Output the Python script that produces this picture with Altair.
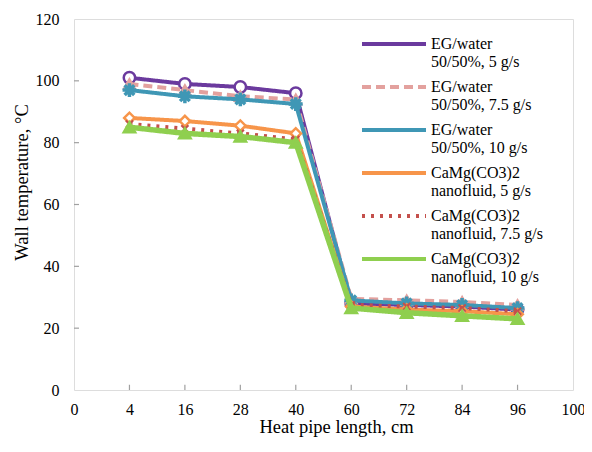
import altair as alt
import pandas as pd

x_labels = ["0", "4", "16", "28", "40", "60", "72", "84", "96", "100"]
lengths = [4, 16, 28, 40, 60, 72, 84, 96]
series_names = [
    "EG/water 50/50%, 5 g/s",
    "EG/water 50/50%, 7.5 g/s",
    "EG/water 50/50%, 10 g/s",
    "CaMg(CO3)2 nanofluid, 5 g/s",
    "CaMg(CO3)2 nanofluid, 7.5 g/s",
    "CaMg(CO3)2 nanofluid, 10 g/s",
]
eg_5 = [101, 99, 98, 96, 28, 27.5, 27, 26]
eg_75 = [99, 97, 95, 94, 29.5, 29, 28.5, 27.5]
eg_10 = [97, 95, 94, 92.5, 29, 28, 27.5, 26.5]
ca_5 = [88, 87, 85.5, 83, 27, 26, 25.5, 24.5]
ca_75 = [86, 84.5, 83, 81, 27.5, 27, 26.5, 25.5]
ca_10 = [85, 83, 82, 80, 26.5, 25, 24, 23]
values = [eg_5, eg_75, eg_10, ca_5, ca_75, ca_10]
y_ticks = [20, 40, 60, 80, 100]

colors = ["#6B3A9E", "#E3A19E", "#3F97B5", "#F7954A", "#C4504C", "#8FCF4F"]
dashes = [[1, 0], [9, 5], [1, 0], [1, 0], [3, 6], [1, 0]]
widths = [4, 4, 4, 4, 4, 5.5]
shapes = [
    "circle",
    "triangle-up",
    "M-1,0L1,0M0,-1L0,1M-0.7,-0.7L0.7,0.7M-0.7,0.7L0.7,-0.7",
    "diamond",
    "M-0.8,-0.8L0.8,0.8M-0.8,0.8L0.8,-0.8",
    "triangle-up",
]
fills = ["white", "#E3A19E", "white", "white", "#C4504C", "#8FCF4F"]
sizes = [130, 110, 190, 110, 80, 130]
pstroke = [2.5, 2.5, 3.5, 2.5, 2, 2.5]

rows = []
for s, vals in zip(series_names, values):
    for L, v in zip(lengths, vals):
        rows.append({"series": s, "pos": x_labels.index(str(L)), "temp": v})
df = pd.DataFrame(rows)

frame = "#A0A0A0"
font = "Times New Roman, Liberation Serif, serif"
label_js = "[" + ",".join("'" + l + "'" for l in x_labels) + "]"

x_enc = alt.X(
    "pos:Q",
    scale=alt.Scale(domain=[0, 9], nice=False, zero=False),
    axis=alt.Axis(
        values=list(range(10)),
        labelExpr=label_js + "[datum.value]",
        title="Heat pipe length, cm",
        grid=False, domain=False, ticks=False,
        labelPadding=11, labelFontSize=16, labelFont=font, labelColor="black",
        titleFontSize=18.5, titleFont=font, titleFontWeight="normal", titleColor="black",
        titlePadding=0, titleX=262, labelFlush=False,
    ),
)
y_enc = alt.Y(
    "temp:Q",
    scale=alt.Scale(domain=[0, 120], nice=False),
    axis=alt.Axis(
        values=[0, 20, 40, 60, 80, 100, 120],
        title="Wall temperature, °C",
        grid=False, domain=False, ticks=False,
        labelPadding=15, labelFontSize=16, labelFont=font, labelColor="black",
        titleFontSize=18.5, titleFont=font, titleFontWeight="normal", titleColor="black",
        titleX=-43, titleY=163, labelFlush=False,
    ),
)

color_enc = alt.Color(
    "series:N",
    scale=alt.Scale(domain=series_names, range=colors),
    legend=alt.Legend(
        title=None, orient="none", legendX=312, legendY=22,
        symbolType="M-6.4,-1L6.4,-1", symbolSize=100, symbolStrokeWidth=4,
        labelFont=font, labelFontSize=16, labelColor="black", labelLimit=300,
        labelOffset=29, labelBaseline="alphabetic",
        labelExpr="[slice(datum.label, 0, indexof(datum.label, ' ')), slice(datum.label, indexof(datum.label, ' ') + 1)]",
        rowPadding=9, padding=0,
    ),
)
dash_enc = alt.StrokeDash("series:N", scale=alt.Scale(domain=series_names, range=dashes))

layers = []
for i, s in enumerate(series_names):
    sub = alt.Chart(df).transform_filter(alt.datum.series == s)
    layers.append(
        sub.mark_line(strokeWidth=widths[i]).encode(x=x_enc, y=y_enc, color=color_enc, strokeDash=dash_enc)
    )
    layers.append(
        sub.mark_point(shape=shapes[i], size=sizes[i], fill=fills[i], filled=False,
                       stroke=colors[i], strokeWidth=pstroke[i], opacity=1, fillOpacity=1)
        .encode(x="pos:Q", y="temp:Q")
    )

xt = pd.DataFrame({"pos": [x_labels.index(str(L)) for L in lengths]})
x_ticks = alt.Chart(xt).mark_rule(color=frame, strokeWidth=1.2).encode(
    x="pos:Q", y=alt.datum(0), y2=alt.datum(1.7)
)
yt = pd.DataFrame({"temp": y_ticks})
y_ticks_l = alt.Chart(yt).mark_rule(color=frame, strokeWidth=1.2).encode(
    y="temp:Q", x=alt.datum(0), x2=alt.datum(0.09)
)

chart = alt.layer(x_ticks, y_ticks_l, *layers).properties(
    width=499, height=371,
    autosize=alt.AutoSizeParams(type="none"),
    padding={"left": 66, "top": 11, "right": 11, "bottom": 50},
).configure_view(stroke=frame, strokeWidth=1.5).configure(background="white")

chart.save("out.html", embed_options={"renderer": "svg", "actions": False})
